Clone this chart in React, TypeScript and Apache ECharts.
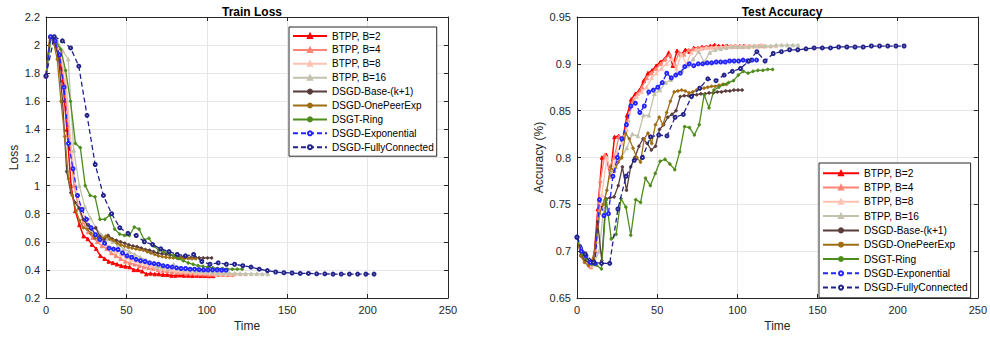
import React, { useEffect, useRef } from "react";
import * as echarts from "echarts";

const seriesNames = [
  "BTPP, B=2",
  "BTPP, B=4",
  "BTPP, B=8",
  "BTPP, B=16",
  "DSGD-Base-(k+1)",
  "DSGD-OnePeerExp",
  "DSGT-Ring",
  "DSGD-Exponential",
  "DSGD-FullyConnected",
];

// time per epoch for each method (41 points each, epochs 0..40)
const timeSteps = [2.6, 2.9, 3.1, 3.45, 2.575, 2.33, 3.05, 2.8, 5.1];

const lossB2 = [1.78, 2.06, 2.02, 1.93, 1.75, 1.4, 1.0, 0.82, 0.72, 0.64, 0.62, 0.58, 0.55, 0.5, 0.48, 0.46, 0.45, 0.44, 0.43, 0.425, 0.42, 0.4, 0.4, 0.39, 0.37, 0.375, 0.37, 0.37, 0.365, 0.365, 0.36, 0.36, 0.362, 0.36, 0.36, 0.358, 0.36, 0.358, 0.358, 0.357, 0.357];
const lossB4 = [1.78, 2.06, 2.02, 1.93, 1.72, 1.35, 1.0, 0.84, 0.74, 0.67, 0.63, 0.6, 0.57, 0.55, 0.52, 0.5, 0.48, 0.46, 0.45, 0.44, 0.43, 0.42, 0.415, 0.41, 0.4, 0.395, 0.39, 0.385, 0.38, 0.38, 0.375, 0.375, 0.372, 0.37, 0.37, 0.368, 0.368, 0.366, 0.366, 0.365, 0.365];
const lossB8 = [1.78, 2.06, 2.03, 1.95, 1.75, 1.3, 0.98, 0.84, 0.75, 0.68, 0.64, 0.61, 0.58, 0.56, 0.53, 0.51, 0.49, 0.47, 0.46, 0.45, 0.44, 0.43, 0.42, 0.41, 0.405, 0.4, 0.395, 0.39, 0.388, 0.385, 0.382, 0.38, 0.378, 0.376, 0.375, 0.374, 0.373, 0.372, 0.371, 0.37, 0.37];
const lossB16 = [1.78, 2.06, 2.03, 1.96, 1.9, 1.25, 1.0, 0.85, 0.77, 0.7, 0.65, 0.62, 0.6, 0.58, 0.55, 0.53, 0.51, 0.49, 0.47, 0.45, 0.42, 0.42, 0.41, 0.44, 0.41, 0.4, 0.395, 0.39, 0.39, 0.385, 0.38, 0.38, 0.378, 0.376, 0.375, 0.374, 0.373, 0.372, 0.372, 0.371, 0.371];
const lossBase = [1.78, 2.06, 2.02, 1.92, 1.6, 1.1, 0.95, 0.88, 0.84, 0.76, 0.72, 0.69, 0.7, 0.64, 0.615, 0.645, 0.62, 0.61, 0.6, 0.59, 0.578, 0.57, 0.565, 0.555, 0.545, 0.54, 0.53, 0.52, 0.515, 0.51, 0.505, 0.5, 0.495, 0.49, 0.49, 0.488, 0.487, 0.486, 0.485, 0.485, 0.485];
const lossOnePeer = [1.78, 2.06, 2.02, 1.9, 1.6, 1.35, 1.05, 0.93, 0.82, 0.75, 0.7, 0.69, 0.66, 0.625, 0.62, 0.625, 0.64, 0.62, 0.61, 0.59, 0.578, 0.57, 0.56, 0.555, 0.55, 0.545, 0.54, 0.53, 0.52, 0.51, 0.5, 0.495, 0.49, 0.488, 0.486, 0.484, 0.483, 0.482, 0.481, 0.48, 0.48];
const lossRing = [1.78, 2.06, 2.03, 1.97, 1.82, 1.6, 1.3, 1.27, 1.0, 0.93, 0.92, 0.76, 0.76, 0.79, 0.69, 0.655, 0.645, 0.645, 0.705, 0.69, 0.615, 0.625, 0.57, 0.54, 0.53, 0.52, 0.5, 0.48, 0.465, 0.45, 0.44, 0.43, 0.425, 0.42, 0.415, 0.41, 0.41, 0.405, 0.405, 0.405, 0.405];
const lossExp = [1.78, 2.06, 2.03, 1.93, 1.7, 1.3, 1.12, 0.93, 0.83, 0.76, 0.7, 0.65, 0.615, 0.59, 0.555, 0.548, 0.545, 0.52, 0.5, 0.49, 0.475, 0.465, 0.46, 0.45, 0.445, 0.44, 0.43, 0.425, 0.42, 0.415, 0.41, 0.41, 0.405, 0.405, 0.402, 0.4, 0.4, 0.4, 0.4, 0.398, 0.398];
const lossFull = [1.78, 2.06, 2.03, 1.98, 1.85, 1.5, 1.15, 0.93, 0.8, 0.7, 0.66, 0.645, 0.6, 0.58, 0.55, 0.53, 0.51, 0.5, 0.51, 0.46, 0.44, 0.45, 0.44, 0.44, 0.43, 0.42, 0.405, 0.395, 0.385, 0.38, 0.378, 0.375, 0.375, 0.372, 0.372, 0.37, 0.37, 0.37, 0.37, 0.37, 0.37];

const accB2 = [0.715, 0.697, 0.692, 0.685, 0.69, 0.745, 0.8, 0.803, 0.78, 0.822, 0.823, 0.82, 0.845, 0.862, 0.868, 0.872, 0.882, 0.89, 0.893, 0.898, 0.902, 0.905, 0.912, 0.898, 0.914, 0.91, 0.915, 0.913, 0.917, 0.917, 0.918, 0.918, 0.919, 0.92, 0.919, 0.919, 0.919, 0.919, 0.919, 0.919, 0.919];
const accB4 = [0.715, 0.697, 0.69, 0.683, 0.7, 0.775, 0.803, 0.79, 0.8, 0.822, 0.822, 0.84, 0.86, 0.868, 0.875, 0.885, 0.89, 0.895, 0.9, 0.905, 0.91, 0.9, 0.912, 0.91, 0.915, 0.916, 0.917, 0.917, 0.918, 0.918, 0.918, 0.918, 0.919, 0.919, 0.919, 0.919, 0.919, 0.919, 0.919, 0.919, 0.919];
const accB8 = [0.715, 0.697, 0.69, 0.685, 0.71, 0.76, 0.8, 0.78, 0.805, 0.815, 0.83, 0.855, 0.865, 0.87, 0.875, 0.885, 0.89, 0.895, 0.9, 0.905, 0.895, 0.91, 0.9, 0.912, 0.915, 0.916, 0.917, 0.917, 0.918, 0.918, 0.918, 0.919, 0.919, 0.919, 0.919, 0.919, 0.919, 0.92, 0.919, 0.919, 0.919];
const accB16 = [0.715, 0.697, 0.69, 0.686, 0.7, 0.755, 0.785, 0.79, 0.8, 0.81, 0.825, 0.823, 0.845, 0.845, 0.868, 0.872, 0.88, 0.883, 0.89, 0.893, 0.898, 0.905, 0.913, 0.902, 0.912, 0.915, 0.916, 0.917, 0.918, 0.918, 0.918, 0.918, 0.919, 0.919, 0.919, 0.919, 0.92, 0.92, 0.92, 0.92, 0.92];
const accBase = [0.715, 0.695, 0.69, 0.688, 0.69, 0.731, 0.69, 0.756, 0.757, 0.758, 0.77, 0.79, 0.765, 0.79, 0.8, 0.812, 0.82, 0.815, 0.808, 0.812, 0.83, 0.835, 0.843, 0.846, 0.85, 0.865, 0.866, 0.866, 0.867, 0.867, 0.868, 0.868, 0.869, 0.869, 0.87, 0.87, 0.871, 0.871, 0.872, 0.872, 0.872];
const accOnePeer = [0.715, 0.695, 0.688, 0.685, 0.69, 0.705, 0.74, 0.75, 0.765, 0.79, 0.785, 0.795, 0.8, 0.826, 0.82, 0.81, 0.8, 0.795, 0.82, 0.826, 0.815, 0.835, 0.843, 0.835, 0.848, 0.86, 0.87, 0.871, 0.872, 0.871, 0.869, 0.87, 0.872, 0.873, 0.874, 0.875, 0.876, 0.876, 0.877, 0.878, 0.878];
const accRing = [0.715, 0.697, 0.692, 0.686, 0.685, 0.681, 0.755, 0.713, 0.718, 0.756, 0.747, 0.717, 0.755, 0.752, 0.778, 0.77, 0.783, 0.796, 0.798, 0.793, 0.787, 0.806, 0.833, 0.832, 0.824, 0.835, 0.867, 0.853, 0.872, 0.875, 0.878, 0.88, 0.882, 0.888, 0.892, 0.89, 0.892, 0.893, 0.893, 0.894, 0.894];
const accExp = [0.715, 0.7, 0.695, 0.688, 0.687, 0.755, 0.738, 0.74, 0.78, 0.8, 0.82, 0.835, 0.855, 0.858, 0.848, 0.855, 0.87, 0.872, 0.875, 0.88, 0.89, 0.885, 0.888, 0.89, 0.897, 0.9, 0.898, 0.9, 0.9, 0.901, 0.901, 0.902, 0.902, 0.902, 0.903, 0.903, 0.903, 0.904, 0.903, 0.904, 0.904];
const accFull = [0.715, 0.697, 0.688, 0.687, 0.687, 0.745, 0.78, 0.797, 0.8, 0.822, 0.824, 0.823, 0.843, 0.846, 0.865, 0.874, 0.884, 0.882, 0.888, 0.892, 0.895, 0.903, 0.913, 0.903, 0.911, 0.913, 0.915, 0.915, 0.916, 0.917, 0.917, 0.917, 0.918, 0.918, 0.918, 0.918, 0.919, 0.919, 0.919, 0.919, 0.919];

const lossData = [lossB2, lossB4, lossB8, lossB16, lossBase, lossOnePeer, lossRing, lossExp, lossFull];
const accData = [accB2, accB4, accB8, accB16, accBase, accOnePeer, accRing, accExp, accFull];

const xTicks = { min: 0, max: 250, interval: 50 };
const lossTicks = { min: 0.2, max: 2.2, interval: 0.2 };
const accTicks = { min: 0.65, max: 0.95, interval: 0.05 };

const colors = ["#FF0000", "#FF8474", "#FFC2B2", "#C2C2AC", "#5A3C3C", "#A06E14", "#4E8C1C", "#2424FF", "#22228C"];
const symbols = ["triangle", "triangle", "triangle", "triangle", "circle", "circle", "circle", "emptyCircle", "emptyCircle"];
const symbolSizes = [3.5, 3.5, 3.5, 3.5, 2.6, 2.6, 2.6, 3, 3];
const dashed = [false, false, false, false, false, false, false, true, true];

const FONT = "'Liberation Sans', Arial, Helvetica, sans-serif";
const AX = "#262626";

function pts(step: number, vals: number[]) {
  return vals.map((v, i) => [Math.round(i * step * 1000) / 1000, v]);
}

export default function App() {
  const ref = useRef<HTMLDivElement>(null);
  useEffect(() => {
    if (!ref.current) return;
    const chart = echarts.init(ref.current, undefined, { renderer: "svg" });

    const grids = [
      { left: 46, top: 17, width: 402, height: 281 },
      { left: 577, top: 17, width: 401, height: 281 },
    ];

    const xAxes: any[] = [];
    const yAxes: any[] = [];
    [0, 1].forEach((g) => {
      xAxes.push({
        type: "value",
        gridIndex: g,
        position: "bottom",
        ...xTicks,
        name: "Time",
        nameLocation: "middle",
        nameGap: 20,
        nameTextStyle: { fontFamily: FONT, fontSize: 12, color: AX },
        axisLine: { show: true, onZero: false, lineStyle: { color: AX, width: 1 } },
        axisTick: { show: true, inside: true, length: 4, lineStyle: { color: AX } },
        axisLabel: { fontFamily: FONT, fontSize: 11, color: AX, margin: 6 },
        splitLine: { show: true, lineStyle: { color: "#E6E6E6", width: 1 } },
      });
      xAxes.push({
        type: "value",
        gridIndex: g,
        position: "top",
        ...xTicks,
        axisLine: { show: true, onZero: false, lineStyle: { color: AX, width: 1 } },
        axisTick: { show: true, inside: true, length: 4, lineStyle: { color: AX } },
        axisLabel: { show: false },
        splitLine: { show: false },
      });
      const yt = g === 0 ? lossTicks : accTicks;
      yAxes.push({
        type: "value",
        gridIndex: g,
        position: "left",
        ...yt,
        name: g === 0 ? "Loss" : "Accuracy (%)",
        nameLocation: "middle",
        nameGap: g === 0 ? 26 : 32,
        nameRotate: 90,
        nameTextStyle: { fontFamily: FONT, fontSize: 12, color: AX },
        axisLine: { show: true, onZero: false, lineStyle: { color: AX, width: 1 } },
        axisTick: { show: true, inside: true, length: 4, lineStyle: { color: AX } },
        axisLabel: { fontFamily: FONT, fontSize: 11, color: AX, margin: 6 },
        splitLine: { show: true, lineStyle: { color: "#E6E6E6", width: 1 } },
      });
      yAxes.push({
        type: "value",
        gridIndex: g,
        position: "right",
        ...yt,
        axisLine: { show: true, onZero: false, lineStyle: { color: AX, width: 1 } },
        axisTick: { show: true, inside: true, length: 4, lineStyle: { color: AX } },
        axisLabel: { show: false },
        splitLine: { show: false },
      });
    });

    const series: any[] = [];
    [lossData, accData].forEach((dataset, g) => {
      dataset.forEach((vals, k) => {
        series.push({
          type: "line",
          name: seriesNames[k],
          xAxisIndex: g * 2,
          yAxisIndex: g * 2,
          data: pts(timeSteps[k], vals),
          symbol: symbols[k],
          symbolSize: symbolSizes[k],
          showSymbol: true,
          lineStyle: { color: colors[k], width: k === 0 ? 1.5 : 1.3, type: dashed[k] ? [5, 3] : "solid" },
          itemStyle: { color: colors[k], borderColor: colors[k], borderWidth: 1 },
          emphasis: { disabled: true },
          z: 2 + k,
        });
      });
    });

    const legendBase = {
      orient: "vertical",
      data: seriesNames,
      backgroundColor: "#FFFFFF",
      borderColor: AX,
      borderWidth: 1,
      itemHeight: 5,
      selectedMode: false,
    };

    chart.setOption({
      animation: false,
      backgroundColor: "#FFFFFF",
      title: [
        { text: "Train Loss", left: 247, top: 1, textAlign: "center", textStyle: { fontFamily: FONT, fontSize: 12, fontWeight: "bold", color: "#000" } },
        { text: "Test Accuracy", left: 777, top: 1, textAlign: "center", textStyle: { fontFamily: FONT, fontSize: 12, fontWeight: "bold", color: "#000" } },
      ],
      grid: grids,
      xAxis: xAxes,
      yAxis: yAxes,
      legend: [
        { ...legendBase, left: 289, top: 27, itemWidth: 34, itemGap: 1.9, padding: [3, 3, 3, 3], textStyle: { fontFamily: FONT, fontSize: 10, lineHeight: 12, color: "#000" } },
        { ...legendBase, left: 819, top: 163, itemWidth: 36, itemGap: 1.9, padding: [4, 3, 4, 3], textStyle: { fontFamily: FONT, fontSize: 10.2, lineHeight: 12.4, color: "#000" } },
      ],
      series,
    });

    return () => chart.dispose();
  }, []);

  return <div ref={ref} style={{ position: "fixed", left: 0, top: 0, width: 990, height: 339 }} />;
}
